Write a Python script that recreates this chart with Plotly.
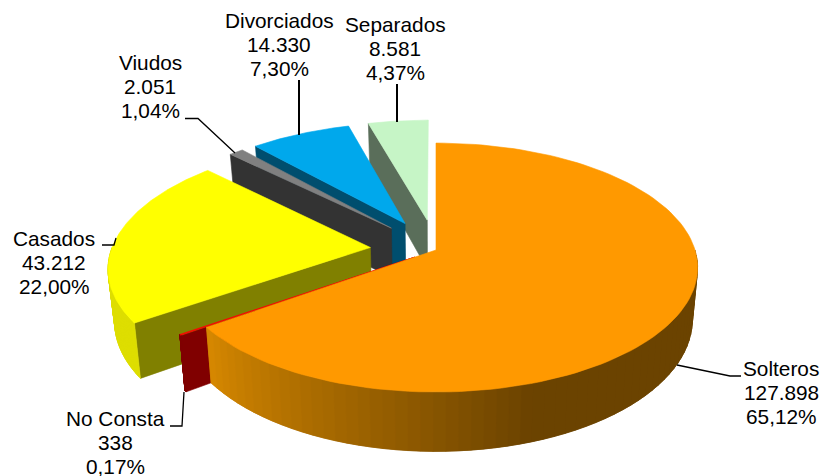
import numpy as np
import plotly.graph_objects as go

# data, clockwise from 12 o'clock
categories = ['Solteros', 'No Consta', 'Casados', 'Viudos', 'Divorciados', 'Separados']
values = [127898, 338, 43212, 2051, 14330, 8581]
value_labels = ['127.898', '338', '43.212', '2.051', '14.330', '8.581']
pct_labels = ['65,12%', '0,17%', '22,00%', '1,04%', '7,30%', '4,37%']

# pull of every slice, as a share of the radius
explode = [0, 0.1, 0.255, 0.255, 0.255, 0.255]

top_colors = ['#FF9900', '#FF0000', '#FFFF00', '#808080', '#00A8EC', '#C6F5C6']
wall_colors = ['#D98A00', '#800000', '#808000', '#333333', '#004E6E', '#5A6E5A']
rim_colors = ['#6B4300', '#800000', '#DEDE00', '#333333', '#004E6E', '#5A6E5A']

# label centre (x) and first line centre (y), in pixels of the page
label_x = [781, 115, 54, 150, 279, 395]
label_y = [368, 418, 238, 62, 20, 24]
line_step = 24.3

leaders = [
    ([677, 730, 741], [365, 376, 376], 1.3),
    ([184, 182, 170], [392, 426, 426], 1.3),
    ([116, 114, 102], [238, 245, 245], 1.3),
    ([235, 198, 185], [153, 118.5, 118.5], 1.3),
    ([299, 299], [80, 135], 2),
    ([397, 397], [84, 122], 2),
]

# perspective of the disc
cx, cy = 436, 250
rx, ry = 259, 122
k = 0.141
depth = 51
bottom_shrink = 0.98


def project(theta, pull, mid, r=1.0, bottom=False):
    theta = np.radians(theta)
    mid = np.radians(mid)
    u = r * np.sin(theta) + pull * np.sin(mid)
    v = -r * np.cos(theta) - pull * np.cos(mid)
    w = 1 - k * v
    x = rx * u / w
    y = ry * v / w
    if bottom:
        return cx + x * bottom_shrink, cy + y + depth / w
    return cx + x, cy + y


def add_poly(fig, xs, ys, color):
    fig.add_trace(go.Scatter(
        x=list(xs), y=list(ys), mode='lines', fill='toself',
        fillcolor=color, line=dict(color=color, width=0.6),
        hoverinfo='skip', showlegend=False,
    ))


def mix(c1, c2, t):
    a = [int(c1[i:i + 2], 16) for i in (1, 3, 5)]
    b = [int(c2[i:i + 2], 16) for i in (1, 3, 5)]
    return 'rgb(%d,%d,%d)' % tuple(p + (q - p) * t for p, q in zip(a, b))


fig = go.Figure()

shares = np.array(values) / sum(values) * 360
starts = np.concatenate([[0], np.cumsum(shares)[:-1]])
ends = starts + shares

# back to front, the big orange slice goes last
for i in [5, 4, 3, 2, 1, 0]:
    a0, a1 = starts[i], ends[i]
    mid = (a0 + a1) / 2
    pull = explode[i]

    # radial wall on the starting edge
    if i != 0:
        tx, ty = project(a0, pull, mid)
        bx, by = project(a0, pull, mid, bottom=True)
        ax, ay = project(a0, pull, mid, r=0)
        dx, dy = project(a0, pull, mid, r=0, bottom=True)
        add_poly(fig, [tx, ax, dx, bx, tx], [ty, ay, dy, by, ty], wall_colors[i])

    # outer wall, cut in strips so the orange one can shade
    wall_from, wall_to = max(a0, 90), min(a1, 270)
    if wall_to > wall_from:
        steps = np.linspace(wall_from, wall_to, 60)
        # every strip reaches over the next one, otherwise seams show
        for s0, s1 in zip(steps[:-1], np.r_[steps[2:], wall_to]):
            x0, y0 = project(s0, pull, mid)
            x1, y1 = project(s1, pull, mid)
            x2, y2 = project(s1, pull, mid, bottom=True)
            x3, y3 = project(s0, pull, mid, bottom=True)
            if i == 0:
                # the shade is at its darkest from about x=533 to the right
                t = np.clip((a1 - s0) / (a1 - 160), 0, 1)
                color = mix(wall_colors[i], rim_colors[i], t)
            else:
                color = rim_colors[i]
            add_poly(fig, [x0, x1, x2, x3, x0], [y0, y1, y2, y3, y0], color)

    # top face
    arc = np.linspace(a0, a1, 120)
    px, py = project(arc, pull, mid)
    ax, ay = project(a0, pull, mid, r=0)
    add_poly(fig, np.r_[ax, px, ax], np.r_[ay, py, ay], top_colors[i])

for xs, ys, width in leaders:
    fig.add_trace(go.Scatter(
        x=xs, y=ys, mode='lines', line=dict(color='#000000', width=width),
        hoverinfo='skip', showlegend=False,
    ))

for i, name in enumerate(categories):
    lines = [name, value_labels[i], pct_labels[i]]
    for n, text in enumerate(lines):
        fig.add_annotation(
            x=label_x[i], y=label_y[i] + n * line_step, text=text,
            showarrow=False, xanchor='center', yanchor='middle',
            font=dict(family='Liberation Sans', size=20.8, color='#000000'),
        )

fig.update_layout(
    width=825, height=476, autosize=False,
    margin=dict(l=0, r=0, t=0, b=0),
    paper_bgcolor='white', plot_bgcolor='white',
    xaxis=dict(range=[0, 825], visible=False, fixedrange=True),
    yaxis=dict(range=[476, 0], visible=False, fixedrange=True),
)

# the page's default body margin would push the figure 8px in
fig.write_html("out.html", config=dict(displayModeBar=False),
               post_script="document.body.style.margin='0';document.body.style.overflow='hidden';")
